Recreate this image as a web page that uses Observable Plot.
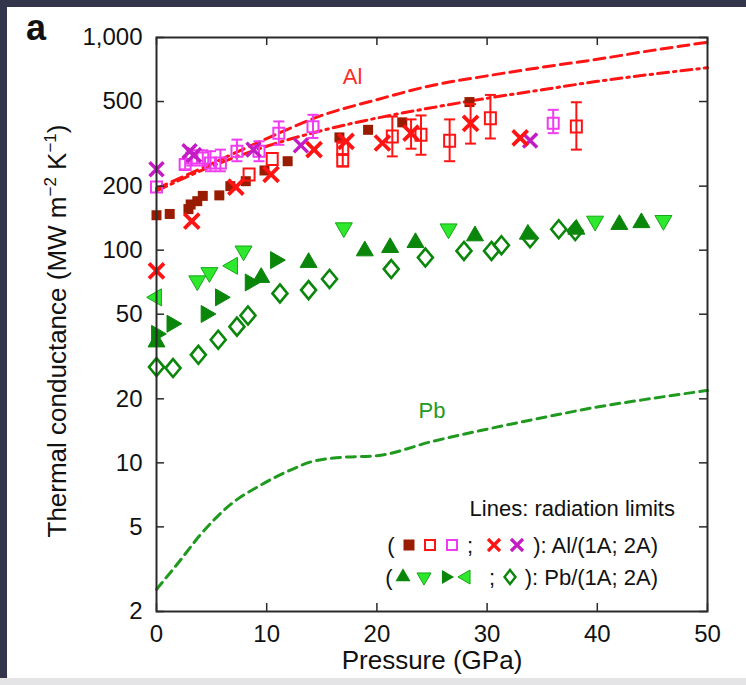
<!DOCTYPE html>
<html>
<head>
<meta charset="utf-8">
<script src="https://cdn.jsdelivr.net/npm/d3@7"></script>
<script src="https://cdn.jsdelivr.net/npm/@observablehq/plot@0.6"></script>
<style>
  html, body { margin: 0; padding: 0; background: #33364b; }
  #wrap { position: relative; width: 746px; height: 685px; overflow: hidden; background: #33364b; }
  #panel { position: absolute; left: 7px; top: 7px; right: 0; bottom: 7px; background: #ffffff; }
  #strip { position: absolute; left: 0; right: 0; bottom: 0; height: 7px; background: #e4e4e6; }
  #chart { position: absolute; left: 0; top: 0; }
</style>
</head>
<body>
<div id="wrap"><div id="panel"></div><div id="strip"></div><div id="chart"></div></div>
<script>
// ---------- axes ----------
const xTicks = [0, 10, 20, 30, 40, 50];
const yTicks = [2, 5, 10, 20, 50, 100, 200, 500, 1000];
const yTickLabels = ["2", "5", "10", "20", "50", "100", "200", "500", "1,000"];

// ---------- radiation limit lines ----------
const alLimitP  = [0, 5, 10, 15, 20, 25, 30, 35, 40, 45, 50];
const alLimit1V = [195, 255, 335, 430, 510, 595, 660, 725, 790, 870, 950];
const alLimit2V = [190, 248, 308, 365, 418, 468, 518, 568, 622, 672, 721];
const pbLimitP  = [0, 2, 4, 6.7, 9.5, 12.2, 14, 16.7, 20, 25, 30, 35, 40, 45, 50];
const pbLimitV  = [2.54, 3.4, 4.6, 6.36, 7.88, 9.27, 10.1, 10.6, 10.8, 12.6, 14.4, 16.3, 18.3, 20.1, 21.9];

// ---------- Al, 1A ----------
const alSolidP = [0, 1.2, 2.9, 3.1, 3.7, 4.2, 5.7, 6.7, 8.1, 9.8, 11.9, 16.6, 19.2, 22.3, 28.4];
const alSolidV = [146, 148, 156, 164, 170, 180, 181, 200, 211, 237, 262, 339, 368, 399, 497];

const alOpenRedP  = [8.4, 10.5, 16.9, 16.9, 21.4, 24.0, 26.6, 30.3, 38.1];
const alOpenRedV  = [227, 268, 300, 264, 342, 349, 327, 417, 382];
const alOpenRedLo = [227, 268, 282, 248, 276, 281, 262, 335, 297];
const alOpenRedHi = [227, 268, 325, 282, 425, 430, 412, 537, 496];

const alOpenMagP  = [0, 2.6, 3.2, 4.2, 4.9, 5.8, 7.3, 9.3, 11.1, 14.2, 36.0];
const alOpenMagV  = [198, 253, 271, 271, 257, 257, 292, 292, 355, 381, 395];
const alOpenMagLo = [198, 240, 250, 250, 235, 235, 262, 262, 313, 337, 355];
const alOpenMagHi = [198, 268, 295, 295, 292, 297, 331, 325, 403, 433, 457];

// ---------- Al, 2A ----------
const alXRedP  = [0, 3.2, 7.2, 10.4, 14.3, 17.2, 20.5, 23.1, 28.5, 33.0];
const alXRedV  = [80, 137, 198, 227, 297, 325, 319, 355, 395, 337];
const alXRedLo = [80, 137, 198, 227, 297, 325, 319, 300, 317, 337];
const alXRedHi = [80, 137, 198, 227, 297, 325, 319, 412, 486, 337];

const alXMagP = [0, 3.0, 3.4, 8.8, 13.1, 33.9];
const alXMagV = [240, 292, 280, 297, 311, 328];

// ---------- Pb, 1A ----------
const pbUpP = [0, 9.5, 13.8, 18.9, 21.2, 23.5, 28.9, 33.7, 38.1, 42.0, 44.0];
const pbUpV = [37, 74.4, 87.5, 99.2, 102.8, 108.5, 116.7, 118.8, 125.4, 132, 134.6];
const pbDownP = [3.7, 4.8, 7.9, 17.0, 26.5, 39.8, 46.0];
const pbDownV = [71.8, 78.5, 99.2, 127.5, 126, 137, 138];
const pbRightP = [0, 1.4, 4.5, 5.8, 8.5, 10.8];
const pbRightV = [40.4, 45.1, 50.1, 60, 70.5, 89.8];
const pbLeftP = [0, 6.9];
const pbLeftV = [60, 84.4];

// ---------- Pb, 2A ----------
const pbDiaP = [0, 1.5, 3.8, 5.6, 7.3, 8.3, 11.2, 13.8, 15.7, 21.3, 24.4, 27.9, 30.4, 31.3, 33.9, 36.5, 38.0];
const pbDiaV = [28.2, 27.9, 32.2, 37.9, 43.7, 49.3, 62.6, 64.9, 73.2, 81.5, 92.3, 99.2, 99.2, 105.5, 113.8, 125.4, 123];

// ---------- annotations ----------
const curveLabels = ["Al", "Pb"];
const curveLabelP = [17.8, 25.0];
const curveLabelV = [654, 17.5];

// ---------- helpers ----------
const zip = (P, V, Lo, Hi) => P.map((p, i) => ({p, v: V[i], lo: Lo ? Lo[i] : V[i], hi: Hi ? Hi[i] : V[i]}));
const FONT = "'Liberation Sans', Arial, Helvetica, sans-serif";

const sqOpen = (w, h) => ({draw(c) { c.moveTo(-w/2, -h/2); c.lineTo(w/2, -h/2); c.lineTo(w/2, h/2); c.lineTo(-w/2, h/2); c.closePath(); }});
const times = s => ({draw(c) { c.moveTo(-s, -s); c.lineTo(s, s); c.moveTo(-s, s); c.lineTo(s, -s); }});
const tri = a => ({draw(c) { const h = a * Math.sqrt(3) / 2; c.moveTo(0, -2*h/3); c.lineTo(a/2, h/3); c.lineTo(-a/2, h/3); c.closePath(); }});
const diamond = (w, h) => ({draw(c) { c.moveTo(0, -h/2); c.lineTo(w/2, 0); c.lineTo(0, h/2); c.lineTo(-w/2, 0); c.closePath(); }});
const cap = w => ({draw(c) { c.moveTo(-w/2, 0); c.lineTo(w/2, 0); }});

const C = {
  darkRed: "#9a1c00", red: "#ff1414", mag: "#f03cf0", purple: "#c41cc4",
  dkGreen: "#0a870a", ltGreen: "#2ee82e", ltEdge: "#15a515", pbLine: "#1f9a1f", frame: "#2a2a2a"
};

const alSolid = zip(alSolidP, alSolidV);
const alOpenRed = zip(alOpenRedP, alOpenRedV, alOpenRedLo, alOpenRedHi);
const alOpenMag = zip(alOpenMagP, alOpenMagV, alOpenMagLo, alOpenMagHi);
const alXRed = zip(alXRedP, alXRedV, alXRedLo, alXRedHi);
const alXMag = zip(alXMagP, alXMagV);
const pbUp = zip(pbUpP, pbUpV), pbDown = zip(pbDownP, pbDownV);
const pbRight = zip(pbRightP, pbRightV), pbLeft = zip(pbLeftP, pbLeftV);
const pbDia = zip(pbDiaP, pbDiaV);
const al1 = zip(alLimitP, alLimit1V), al2 = zip(alLimitP, alLimit2V), pbL = zip(pbLimitP, pbLimitV);
const labels = curveLabels.map((t, i) => ({t, p: curveLabelP[i], v: curveLabelV[i]}));

const errMarks = (rows, color) => {
  const r = rows.filter(d => d.hi > d.lo);
  return [
    Plot.ruleX(r, {x: "p", y1: "lo", y2: "hi", stroke: color, strokeWidth: 2}),
    Plot.dot(r, {x: "p", y: "lo", symbol: cap(11), stroke: color, strokeWidth: 2, fill: "none"}),
    Plot.dot(r, {x: "p", y: "hi", symbol: cap(11), stroke: color, strokeWidth: 2, fill: "none"})
  ];
};

const FW = 746 - 156 - 39, FH = 685 - 37 - 74, TL = 8;

const chart = Plot.plot({
  width: 746, height: 685,
  marginLeft: 156, marginRight: 39, marginTop: 37, marginBottom: 74,
  style: {background: "transparent", fontFamily: FONT, fontSize: "24px", color: "#111", overflow: "visible"},
  x: {domain: [0, 50], label: null},
  y: {type: "log", domain: [2, 1000], label: null},
  marks: [
    // radiation limit lines
    Plot.line(al1, {x: "p", y: "v", stroke: C.red, strokeWidth: 3, strokeDasharray: "11,6", curve: "monotone-x"}),
    Plot.line(al2, {x: "p", y: "v", stroke: C.red, strokeWidth: 3, strokeDasharray: "11,5,2.5,5", curve: "monotone-x"}),
    Plot.line(pbL, {x: "p", y: "v", stroke: C.pbLine, strokeWidth: 3, strokeDasharray: "9,6", curve: "monotone-x"}),
    // Pb markers
    Plot.dot(pbDia, {x: "p", y: "v", symbol: diamond(15, 18), stroke: C.dkGreen, strokeWidth: 2.6, fill: "none"}),
    Plot.dot(pbLeft, {x: "p", y: "v", symbol: tri(17), rotate: -90, fill: C.ltGreen, stroke: C.ltEdge, strokeWidth: 1}),
    Plot.dot(pbRight, {x: "p", y: "v", symbol: tri(17), rotate: 90, fill: C.dkGreen, stroke: C.dkGreen, strokeWidth: 1}),
    Plot.dot(pbDown, {x: "p", y: "v", symbol: tri(17), rotate: 180, fill: C.ltGreen, stroke: C.ltEdge, strokeWidth: 1}),
    Plot.dot(pbUp, {x: "p", y: "v", symbol: tri(17), fill: C.dkGreen, stroke: C.dkGreen, strokeWidth: 1}),
    // Al markers
    ...errMarks(alOpenMag, C.mag),
    Plot.dot(alOpenMag, {x: "p", y: "v", symbol: sqOpen(11, 11), stroke: C.mag, strokeWidth: 2, fill: "none"}),
    Plot.dot(alSolid, {x: "p", y: "v", symbol: sqOpen(10, 10), fill: C.darkRed, stroke: "none"}),
    ...errMarks(alOpenRed, C.red),
    Plot.dot(alOpenRed, {x: "p", y: "v", symbol: sqOpen(11, 12), stroke: C.red, strokeWidth: 2, fill: "none"}),
    Plot.dot(alXMag, {x: "p", y: "v", symbol: times(7), stroke: C.purple, strokeWidth: 3.5, fill: "none"}),
    ...errMarks(alXRed, C.red),
    Plot.dot(alXRed, {x: "p", y: "v", symbol: times(7.5), stroke: C.red, strokeWidth: 3.8, fill: "none"}),
    // labels on curves
    Plot.text(labels, {x: "p", y: "v", text: "t", fontSize: 22, fill: d => d.t === "Al" ? "#ff2a2a" : "#229a22"}),
    // frame and inward ticks
    Plot.frame({stroke: C.frame, strokeWidth: 2}),
    Plot.tickX(xTicks, {x: d => d, insetTop: FH - TL, stroke: C.frame, strokeWidth: 1.5}),
    Plot.tickX(xTicks, {x: d => d, insetBottom: FH - TL, stroke: C.frame, strokeWidth: 1.5}),
    Plot.tickY(yTicks, {y: d => d, insetRight: FW - TL, stroke: C.frame, strokeWidth: 1.5}),
    Plot.tickY(yTicks, {y: d => d, insetLeft: FW - TL, stroke: C.frame, strokeWidth: 1.5}),
    // axes
    Plot.axisX(xTicks, {tickSize: 0, tickPadding: 13, fontSize: 24, label: null, fill: "#111"}),
    Plot.axisY(yTicks, {tickSize: 0, tickPadding: 14, fontSize: 24, label: null, fill: "#111",
      tickFormat: d => yTickLabels[yTicks.indexOf(d)]}),
    Plot.text(["Pressure (GPa)"], {frameAnchor: "bottom", dy: 57, fontSize: 26, fill: "#111"})
  ]
});
document.getElementById("chart").appendChild(chart);

// ---------- overlay: panel letter, y title, legend ----------
const svg = d3.select(chart);
const g = svg.append("g").attr("font-family", FONT).attr("fill", "#111");

g.append("text").attr("x", 36).attr("y", 40).attr("font-size", 36).attr("font-weight", "bold").text("a");

const yt = g.append("text").attr("transform", "translate(66,331) rotate(-90)")
  .attr("text-anchor", "middle").attr("font-size", 26);
yt.append("tspan").text("Thermal conductance (MW m");
yt.append("tspan").attr("dy", -10).attr("font-size", 17).text("\u22122");
yt.append("tspan").attr("dy", 10).text(" K");
yt.append("tspan").attr("dy", -10).attr("font-size", 17).text("\u22121");
yt.append("tspan").attr("dy", 10).text(")");

const symPath = s => { const p = d3.path(); s.draw(p); return p.toString(); };
const lg = g.append("g").attr("font-size", 22);
lg.append("text").attr("x", 675).attr("y", 516).attr("text-anchor", "end").text("Lines: radiation limits");

const row = (cy, items, tail) => {
  items.forEach(it => {
    if (it.t) {
      lg.append("text").attr("x", it.x).attr("y", cy + 8).attr("text-anchor", "middle").text(it.t);
    } else {
      lg.append("path").attr("d", symPath(it.s))
        .attr("transform", `translate(${it.x},${cy}) rotate(${it.r || 0})`)
        .attr("fill", it.fill || "none").attr("stroke", it.stroke || "none").attr("stroke-width", it.sw || 0);
    }
  });
  lg.append("text").attr("x", 658).attr("y", cy + 8).attr("text-anchor", "end").text(tail);
};
row(545, [
  {t: "(", x: 391},
  {s: sqOpen(11, 11), x: 409, fill: C.darkRed},
  {s: sqOpen(10, 10), x: 430, stroke: C.red, sw: 2},
  {s: sqOpen(10, 10), x: 452, stroke: C.mag, sw: 2},
  {t: ";", x: 470},
  {s: times(6), x: 494, stroke: C.red, sw: 3.2},
  {s: times(6), x: 517, stroke: C.purple, sw: 3.2}
], "): Al/(1A; 2A)");
row(577, [
  {t: "(", x: 389},
  {s: tri(15), x: 403, fill: C.dkGreen},
  {s: tri(14), x: 424, r: 180, fill: C.ltGreen, stroke: C.ltEdge, sw: 1},
  {s: tri(14), x: 446, r: 90, fill: C.dkGreen},
  {s: tri(14), x: 466, r: -90, fill: C.ltGreen, stroke: C.ltEdge, sw: 1},
  {t: ";", x: 492},
  {s: diamond(11, 14), x: 510, stroke: C.dkGreen, sw: 2.4}
], "): Pb/(1A; 2A)");
</script>
</body>
</html>
